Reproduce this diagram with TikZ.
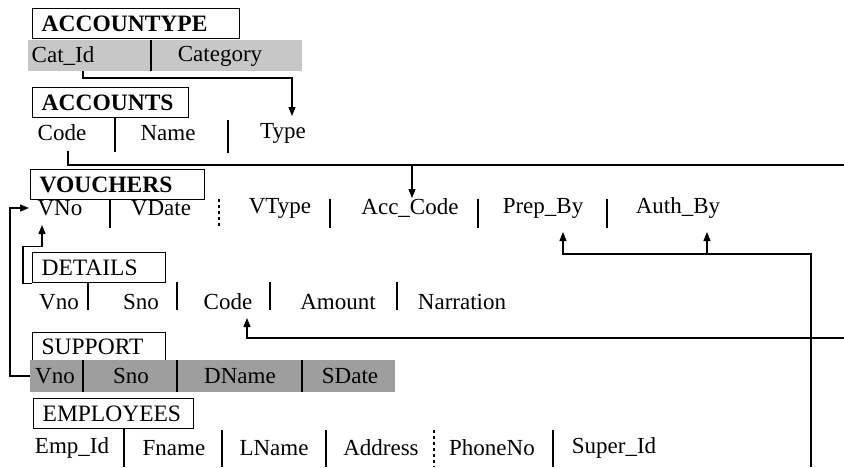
\documentclass[tikz,border=0pt]{standalone}
\usepackage{fontspec}
\setmainfont{Liberation Serif}
\usetikzlibrary{arrows.meta}
\begin{document}
\begin{tikzpicture}[x=1pt,y=-1pt,
  fld/.style={font=\fontsize{23}{25}\selectfont, inner sep=0pt, anchor=center},
  ttl/.style={draw, line width=1.3pt, anchor=north west, minimum height=30pt, inner xsep=9pt, inner ysep=0pt, align=left, font=\fontsize{23.5}{25}\selectfont},
  sepline/.style={line width=1.2pt},
  con/.style={line width=1.3pt},
  arr/.style={con, -{Triangle[length=9pt,width=7pt]}},
  shadeA/.style={fill=black!22},
  shadeB/.style={fill=black!38}
]
\useasboundingbox (0,0) rectangle (844,467);

% ---------- ACCOUNTYPE ----------
\node[ttl, text width=189pt] (AT) at (32,8) {\bfseries ACCOUNTYPE};
\fill[shadeA] (28,40) rectangle (302,71);
\node[fld] (catid) at (63,56) {Cat\_Id};
\draw[sepline] (151,40) -- (151,71);
\node[fld] (category) at (220,56) {Category};

% ---------- ACCOUNTS ----------
\node[ttl, text width=138pt] (AC) at (32,87) {\bfseries ACCOUNTS};
\node[fld] (acode) at (62,133) {Code};
\draw[sepline] (115,117) -- (115,152);
\node[fld] (aname) at (168,133) {Name};
\draw[sepline] (228,120) -- (228,153);
\node[fld] (atype) at (283,133) {Type};

% ---------- VOUCHERS ----------
\node[ttl, text width=156pt] (VO) at (30,169) {\bfseries VOUCHERS};
\node[fld] (vno) at (60,208) {VNo};
\draw[sepline] (110,199) -- (110,228);
\node[fld] (vdate) at (161,208) {VDate};
\draw[sepline, dashed] (219,199) -- (219,228);
\node[fld] (vtype) at (280,208) {VType};
\draw[sepline] (330,199) -- (330,228);
\node[fld] (acccode) at (410,208) {Acc\_Code};
\draw[sepline] (478,199) -- (478,228);
\node[fld] (prepby) at (543,208) {Prep\_By};
\draw[sepline] (607,199) -- (607,228);
\node[fld] (authby) at (678,208) {Auth\_By};

% ---------- DETAILS ----------
\node[ttl, text width=115pt] (DE) at (32,252) {DETAILS};
\node[fld] (dvno) at (59,302) {Vno};
\draw[sepline] (88,282) -- (88,310);
\node[fld] (dsno) at (141,302) {Sno};
\draw[sepline] (177,282) -- (177,310);
\node[fld] (dcode) at (228,302) {Code};
\draw[sepline] (270,282) -- (270,310);
\node[fld] (damount) at (338,302) {Amount};
\draw[sepline] (397,282) -- (397,310);
\node[fld] (dnarr) at (462,302) {Narration};

% ---------- SUPPORT ----------
\node[ttl, text width=115pt, minimum height=28pt] (SU) at (32,332) {SUPPORT};
\fill[shadeB] (30,360) rectangle (395,392);
\node[fld] (svno) at (55,376) {Vno};
\draw[sepline] (83,360) -- (83,392);
\node[fld] (ssno) at (131,376) {Sno};
\draw[sepline] (177,360) -- (177,392);
\node[fld] (sdname) at (240,376) {DName};
\draw[sepline] (302,360) -- (302,392);
\node[fld] (ssdate) at (350,376) {SDate};

% ---------- EMPLOYEES ----------
\node[ttl, text width=142pt] (EM) at (33,398) {EMPLOYEES};
\node[fld] (empid) at (72,448) {Emp\_Id};
\draw[sepline] (124,428) -- (124,467);
\node[fld] (fname) at (174,448) {Fname};
\draw[sepline] (222,430) -- (222,467);
\node[fld] (lname) at (274,448) {LName};
\draw[sepline] (326,430) -- (326,467);
\node[fld] (address) at (381,448) {Address};
\draw[sepline, dashed] (434,430) -- (434,467);
\node[fld] (phone) at (492,448) {PhoneNo};
\draw[sepline] (553,430) -- (553,467);
\node[fld] (superid) at (614,448) {Super\_Id};

% ---------- connector points ----------
\coordinate (catidS) at (83,71);
\coordinate (typeN) at (292,116);
\coordinate (acodeS) at (68,151);
\coordinate (redgeA) at (844,165);
\coordinate (acccodeN) at (412,198);
\coordinate (redgeB) at (844,338);
\coordinate (dcodeS) at (247,318);
\coordinate (svnoW) at (30,376);
\coordinate (vnoW) at (29,208);
\coordinate (vnoS) at (42,225);
\coordinate (prepS) at (563,232);
\coordinate (authS) at (707,232);
\coordinate (empline) at (811,254);
\coordinate (bottom) at (811,467);

% ---------- connectors ----------
\draw[arr] (catidS) -- ++(0,7) -| (typeN);
\draw[con] (acodeS) |- (redgeA);
\draw[arr] (acccodeN |- redgeA) -- (acccodeN);
\draw[arr] (redgeB) -| (dcodeS);
\draw[arr] (svnoW) -- (10,376) |- (vnoW);
\draw[arr] (DE.south west) -- ++(-9,0) -- ++(0,-37) -| (vnoS);
\draw[arr] (bottom) -- (empline) -| (prepS);
\draw[arr] (authS |- empline) -- (authS);
\end{tikzpicture}
\end{document}
